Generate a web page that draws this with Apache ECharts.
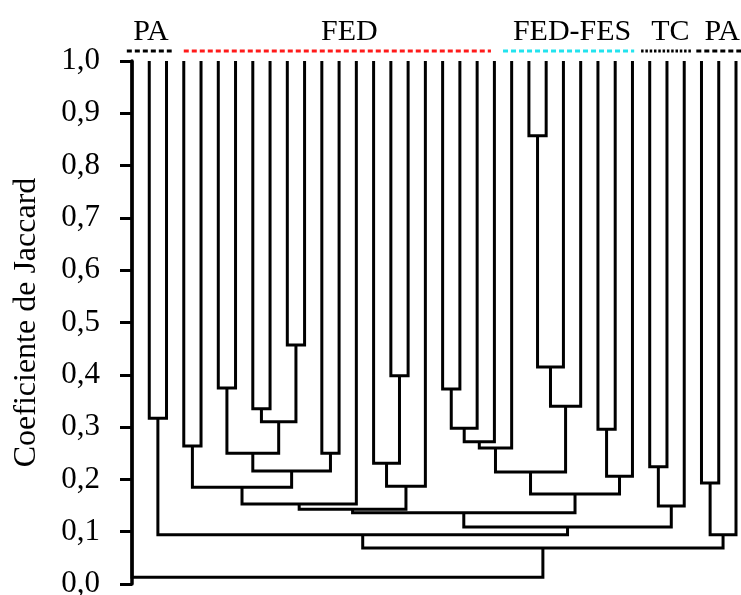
<!DOCTYPE html>
<html><head><meta charset="utf-8">
<script src="https://cdn.jsdelivr.net/npm/echarts@6/dist/echarts.min.js"></script>
<style>html,body{margin:0;padding:0;background:#fff}#c{width:741px;height:595px}</style>
</head><body><div id="c"></div>
<script>
// ---- data ----
const leafCount = 36;            // leaves, left to right
const leafHeight = 1.0;          // similarity at which every leaf starts
// merges: new node id = leafCount + index
const mergeLeft   = [1, 3, 5, 7, 9, 39, 38, 11, 42, 37, 45, 15, 14, 48, 46, 18, 51, 52, 53, 23, 55, 56, 54, 27, 59, 58, 50, 30, 63, 62, 36, 33, 67, 66, 0];
const mergeRight  = [2, 4, 6, 8, 10, 40, 41, 12, 43, 44, 13, 16, 47, 17, 49, 19, 20, 21, 22, 24, 25, 26, 57, 28, 29, 60, 61, 31, 32, 64, 65, 34, 35, 68, 69];
const mergeHeight = [0.317, 0.264, 0.375, 0.335, 0.457, 0.310, 0.250, 0.250, 0.216, 0.185, 0.153, 0.398, 0.231, 0.187, 0.143, 0.373, 0.298, 0.272, 0.260, 0.857, 0.415, 0.340, 0.214, 0.296, 0.206, 0.172, 0.136, 0.224, 0.149, 0.109, 0.094, 0.193, 0.094, 0.069, 0.013];
const yTicks = [0, 0.1, 0.2, 0.3, 0.4, 0.5, 0.6, 0.7, 0.8, 0.9, 1.0];
// group bars above the leaves (in leaf units)
const groupNames   = ['PA', 'FED', 'FED-FES', 'TC', 'PA'];
const groupStart   = [-0.3, 3.0, 21.5, 29.5, 32.7];
const groupEnd     = [2.3, 20.8, 29.1, 32.4, 35.3];
const groupLabelAt = [1.1, 12.6, 25.5, 31.2, 34.2];
const groupColors  = ['#000000', '#ff1a1a', '#22e3ee', '#000000', '#000000'];
const groupDash    = [[5, 3], [5, 3], [5, 3], [2.5, 1.8], [5, 3]];

// ---- build dendrogram segments from the merge table ----
const nodeX = [], nodeH = [];
for (let i = 0; i < leafCount; i++) { nodeX.push(i); nodeH.push(leafHeight); }
const links = [];
for (let k = 0; k < mergeLeft.length; k++) {
  const a = mergeLeft[k], b = mergeRight[k], h = mergeHeight[k];
  links.push([nodeX[a], nodeH[a], nodeX[b], nodeH[b], h]);
  nodeX.push((nodeX[a] + nodeX[b]) / 2);
  nodeH.push(h);
}
const groups = groupNames.map((n, i) => [groupStart[i], groupEnd[i], groupLabelAt[i], i]);

const chart = echarts.init(document.getElementById('c'), null, {renderer: 'canvas'});
const FONT = 'Liberation Serif';
chart.setOption({
  animation: false,
  backgroundColor: '#fff',
  grid: {left: 132, right: 5, top: 61, bottom: 11, containLabel: false, outerBoundsMode: 'none'},
  xAxis: {type: 'value', min: 0, max: leafCount - 1, show: false},
  yAxis: {
    type: 'value', min: 0, max: 1, interval: 0.1, offset: 16,
    axisLine: {show: true, lineStyle: {color: '#000', width: 3.5}},
    axisTick: {show: true, length: 12, lineStyle: {color: '#000', width: 3}},
    axisLabel: {
      color: '#000', fontSize: 31, fontFamily: FONT, margin: 16,
      formatter: v => yTicks.some(t => Math.abs(t - v) < 1e-9) ? v.toFixed(1).replace('.', ',') : ''
    },
    splitLine: {show: false},
    name: 'Coeficiente de Jaccard', nameLocation: 'middle', nameGap: 73,
    nameTextStyle: {color: '#000', fontSize: 32, fontFamily: FONT}
  },
  series: [
    {
      type: 'custom', data: links, clip: false,
      encode: {x: [0, 2], y: [1, 3, 4]},
      renderItem: (params, api) => {
        const p1 = api.coord([api.value(0), api.value(1)]);
        const p2 = api.coord([api.value(0), api.value(4)]);
        const p3 = api.coord([api.value(2), api.value(4)]);
        const p4 = api.coord([api.value(2), api.value(3)]);
        return {type: 'polyline', shape: {points: [p1, p2, p3, p4]},
          style: {stroke: '#000', lineWidth: 3, fill: null, lineJoin: 'miter', lineCap: 'butt'}};
      }
    },
    {
      type: 'custom', data: groups, clip: false,
      encode: {x: [0, 1]},
      renderItem: (params, api) => {
        const i = api.value(3);
        const s = api.coord([api.value(0), leafHeight]);
        const e = api.coord([api.value(1), leafHeight]);
        const c = api.coord([api.value(2), leafHeight]);
        const y = s[1] - 10;
        return {type: 'group', children: [
          {type: 'line', shape: {x1: s[0], y1: y, x2: e[0], y2: y},
            style: {stroke: groupColors[i], lineWidth: 3, lineDash: groupDash[i]}},
          {type: 'text', x: c[0], y: y - 4,
            style: {text: groupNames[i], fill: '#000', font: '30px "' + FONT + '"', textAlign: 'center', textVerticalAlign: 'bottom'}}
        ]};
      }
    }
  ]
});
</script></body></html>
